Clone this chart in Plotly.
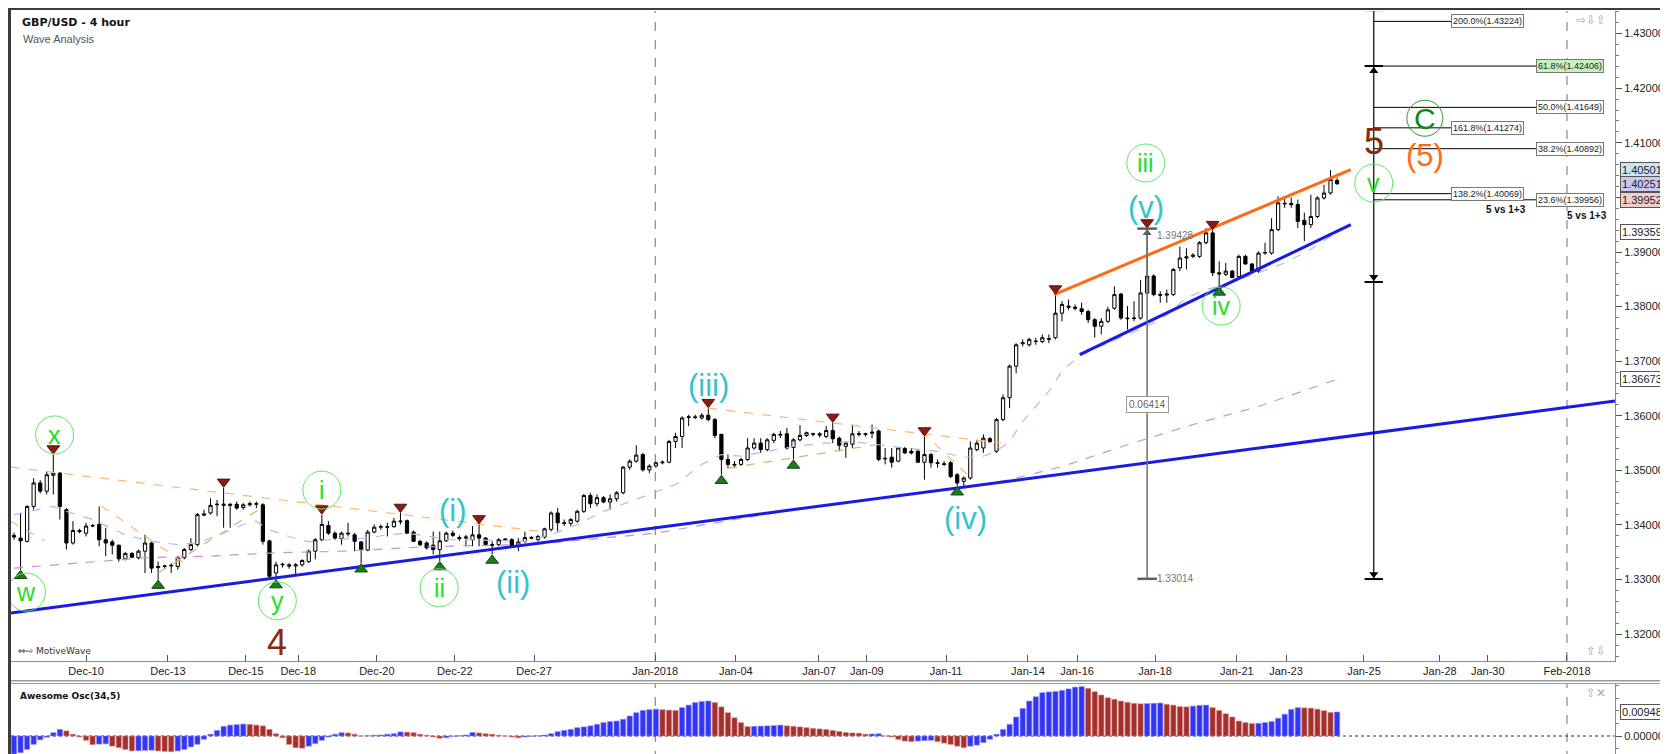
import plotly.graph_objects as go

W, H = 1668, 754

# ---------------- values (4 hour bars, index 0 = first bar) ----------------
opens = [
    1.3381, 1.3376, 1.3370, 1.3434, 1.3477, 1.3462, 1.3491, 1.3495, 1.3428, 1.3367,
    1.3390, 1.3385, 1.3398, 1.3401, 1.3373, 1.3369, 1.3363, 1.3338, 1.3348, 1.3340,
    1.3352, 1.3367, 1.3322, 1.3324, 1.3325, 1.3324, 1.3340, 1.3355, 1.3364, 1.3418,
    1.3422, 1.3437, 1.3436, 1.3438, 1.3438, 1.3432, 1.3437, 1.3438, 1.3437, 1.3371,
    1.3312, 1.3327, 1.3327, 1.3325, 1.3327, 1.3333, 1.3352, 1.3373, 1.3399, 1.3385,
    1.3375, 1.3385, 1.3382, 1.3369, 1.3354, 1.3387, 1.3396, 1.3397, 1.3397, 1.3406,
    1.3408, 1.3387, 1.3370, 1.3367, 1.3363, 1.3355, 1.3371, 1.3385, 1.3377, 1.3376,
    1.3373, 1.3382, 1.3376, 1.3364, 1.3364, 1.3373, 1.3373, 1.3361, 1.3370, 1.3377,
    1.3373, 1.3378, 1.3392, 1.3422, 1.3404, 1.3403, 1.3407, 1.3425, 1.3454, 1.3439,
    1.3450, 1.3442, 1.3448, 1.3459, 1.3506, 1.3517, 1.3529, 1.3501, 1.3508, 1.3514,
    1.3515, 1.3553, 1.3562, 1.3597, 1.3598, 1.3596, 1.3601, 1.3593, 1.3566, 1.3520,
    1.3511, 1.3511, 1.3520, 1.3541, 1.3550, 1.3538, 1.3555, 1.3566, 1.3567, 1.3542,
    1.3556, 1.3564, 1.3566, 1.3567, 1.3562, 1.3573, 1.3559, 1.3544, 1.3548, 1.3566,
    1.3567, 1.3568, 1.3572, 1.3521, 1.3524, 1.3517, 1.3540, 1.3535, 1.3535, 1.3515,
    1.3529, 1.3514, 1.3512, 1.3514, 1.3492, 1.3480, 1.3486, 1.3538, 1.3541, 1.3558,
    1.3535, 1.3593, 1.3633, 1.3691, 1.3732, 1.3730, 1.3737, 1.3736, 1.3740, 1.3743,
    1.3788, 1.3801, 1.3799, 1.3796, 1.3791, 1.3776, 1.3764, 1.3773, 1.3797, 1.3823,
    1.3779, 1.3778, 1.3779, 1.3825, 1.3856, 1.3822, 1.3821, 1.3822, 1.3871, 1.3889,
    1.3892, 1.3892, 1.3917, 1.3935, 1.3862, 1.3859, 1.3865, 1.3855, 1.3892, 1.3878,
    1.3865, 1.3898, 1.3898, 1.3941, 1.3988, 1.3989, 1.3987, 1.3958, 1.3950, 1.3965,
    1.3999, 1.4008, 1.4031,
]
highs = [
    1.3386, 1.3422, 1.3436, 1.3486, 1.3482, 1.3498, 1.3529, 1.3497, 1.3431, 1.3407,
    1.3393, 1.3404, 1.3402, 1.3434, 1.3395, 1.3373, 1.3364, 1.3350, 1.3350, 1.3355,
    1.3382, 1.3370, 1.3333, 1.3327, 1.3330, 1.3343, 1.3358, 1.3376, 1.3422, 1.3428,
    1.3449, 1.3446, 1.3468, 1.3440, 1.3443, 1.3440, 1.3443, 1.3443, 1.3440, 1.3373,
    1.3333, 1.3331, 1.3330, 1.3330, 1.3337, 1.3355, 1.3376, 1.3419, 1.3407, 1.3388,
    1.3388, 1.3404, 1.3385, 1.3370, 1.3391, 1.3401, 1.3401, 1.3404, 1.3413, 1.3422,
    1.3410, 1.3390, 1.3373, 1.3370, 1.3388, 1.3388, 1.3388, 1.3390, 1.3381, 1.3382,
    1.3398, 1.3401, 1.3378, 1.3370, 1.3376, 1.3376, 1.3376, 1.3376, 1.3388, 1.3380,
    1.3382, 1.3395, 1.3425, 1.3431, 1.3410, 1.3413, 1.3428, 1.3457, 1.3459, 1.3456,
    1.3453, 1.3456, 1.3462, 1.3508, 1.3520, 1.3546, 1.3532, 1.3511, 1.3516, 1.3518,
    1.3556, 1.3569, 1.3599, 1.3602, 1.3602, 1.3605, 1.3614, 1.3596, 1.3567, 1.3529,
    1.3517, 1.3523, 1.3559, 1.3559, 1.3559, 1.3559, 1.3569, 1.3572, 1.3578, 1.3559,
    1.3583, 1.3571, 1.3569, 1.3570, 1.3581, 1.3587, 1.3562, 1.3553, 1.3584, 1.3572,
    1.3569, 1.3584, 1.3575, 1.3541, 1.3541, 1.3542, 1.3543, 1.3541, 1.3538, 1.3562,
    1.3532, 1.3520, 1.3517, 1.3517, 1.3495, 1.3489, 1.3553, 1.3556, 1.3566, 1.3561,
    1.3596, 1.3639, 1.3694, 1.3733, 1.3740, 1.3743, 1.3743, 1.3749, 1.3749, 1.3822,
    1.3810, 1.3813, 1.3804, 1.3807, 1.3794, 1.3779, 1.3779, 1.3800, 1.3837, 1.3825,
    1.3801, 1.3810, 1.3849, 1.3943, 1.3859, 1.3828, 1.3831, 1.3871, 1.3910, 1.3907,
    1.3898, 1.3920, 1.3944, 1.3940, 1.3883, 1.3880, 1.3867, 1.3895, 1.3895, 1.3880,
    1.3901, 1.3917, 1.3962, 1.4002, 1.4002, 1.4000, 1.3996, 1.3972, 1.4005, 1.4002,
    1.4023, 1.4050, 1.4036,
]
lows = [
    1.3373, 1.3318, 1.3368, 1.3428, 1.3458, 1.3456, 1.3456, 1.3410, 1.3355, 1.3364,
    1.3385, 1.3379, 1.3396, 1.3361, 1.3343, 1.3346, 1.3333, 1.3335, 1.3340, 1.3337,
    1.3312, 1.3312, 1.3300, 1.3320, 1.3312, 1.3318, 1.3337, 1.3352, 1.3361, 1.3416,
    1.3419, 1.3416, 1.3395, 1.3395, 1.3428, 1.3428, 1.3434, 1.3431, 1.3364, 1.3303,
    1.3301, 1.3322, 1.3320, 1.3310, 1.3324, 1.3330, 1.3337, 1.3370, 1.3382, 1.3373,
    1.3364, 1.3379, 1.3352, 1.3330, 1.3352, 1.3385, 1.3391, 1.3379, 1.3395, 1.3401,
    1.3385, 1.3369, 1.3361, 1.3355, 1.3346, 1.3334, 1.3369, 1.3378, 1.3371, 1.3361,
    1.3361, 1.3361, 1.3361, 1.3346, 1.3361, 1.3370, 1.3358, 1.3352, 1.3367, 1.3374,
    1.3370, 1.3375, 1.3388, 1.3388, 1.3398, 1.3398, 1.3404, 1.3422, 1.3431, 1.3434,
    1.3440, 1.3428, 1.3443, 1.3456, 1.3501, 1.3514, 1.3498, 1.3495, 1.3505, 1.3511,
    1.3513, 1.3541, 1.3541, 1.3581, 1.3594, 1.3593, 1.3590, 1.3559, 1.3492, 1.3504,
    1.3504, 1.3508, 1.3517, 1.3538, 1.3532, 1.3535, 1.3550, 1.3559, 1.3538, 1.3520,
    1.3553, 1.3561, 1.3562, 1.3560, 1.3559, 1.3550, 1.3535, 1.3523, 1.3541, 1.3562,
    1.3562, 1.3559, 1.3517, 1.3511, 1.3505, 1.3515, 1.3530, 1.3529, 1.3514, 1.3483,
    1.3505, 1.3505, 1.3508, 1.3486, 1.3471, 1.3468, 1.3483, 1.3535, 1.3532, 1.3550,
    1.3532, 1.3590, 1.3614, 1.3678, 1.3727, 1.3727, 1.3730, 1.3733, 1.3733, 1.3740,
    1.3773, 1.3794, 1.3793, 1.3785, 1.3770, 1.3743, 1.3749, 1.3770, 1.3794, 1.3776,
    1.3758, 1.3773, 1.3776, 1.3822, 1.3819, 1.3807, 1.3807, 1.3819, 1.3865, 1.3868,
    1.3889, 1.3889, 1.3914, 1.3856, 1.3837, 1.3856, 1.3853, 1.3852, 1.3877, 1.3862,
    1.3862, 1.3895, 1.3895, 1.3938, 1.3981, 1.3981, 1.3944, 1.3920, 1.3944, 1.3962,
    1.3996, 1.4005, 1.4023,
]
closes = [
    1.3378, 1.3371, 1.3434, 1.3477, 1.3462, 1.3492, 1.3495, 1.3434, 1.3367, 1.3390,
    1.3388, 1.3398, 1.3399, 1.3373, 1.3367, 1.3363, 1.3338, 1.3348, 1.3341, 1.3352,
    1.3367, 1.3321, 1.3324, 1.3325, 1.3326, 1.3340, 1.3355, 1.3364, 1.3419, 1.3420,
    1.3436, 1.3438, 1.3438, 1.3436, 1.3431, 1.3437, 1.3439, 1.3439, 1.3370, 1.3306,
    1.3327, 1.3328, 1.3325, 1.3327, 1.3335, 1.3352, 1.3373, 1.3401, 1.3385, 1.3376,
    1.3385, 1.3384, 1.3370, 1.3355, 1.3387, 1.3396, 1.3397, 1.3396, 1.3407, 1.3407,
    1.3385, 1.3370, 1.3364, 1.3358, 1.3355, 1.3371, 1.3385, 1.3381, 1.3375, 1.3378,
    1.3382, 1.3376, 1.3364, 1.3363, 1.3373, 1.3374, 1.3361, 1.3369, 1.3377, 1.3376,
    1.3379, 1.3393, 1.3422, 1.3404, 1.3403, 1.3410, 1.3425, 1.3454, 1.3439, 1.3450,
    1.3442, 1.3448, 1.3459, 1.3506, 1.3517, 1.3528, 1.3501, 1.3508, 1.3514, 1.3515,
    1.3553, 1.3562, 1.3596, 1.3598, 1.3597, 1.3601, 1.3593, 1.3564, 1.3520, 1.3511,
    1.3510, 1.3520, 1.3541, 1.3550, 1.3538, 1.3556, 1.3566, 1.3565, 1.3541, 1.3556,
    1.3564, 1.3569, 1.3567, 1.3565, 1.3573, 1.3558, 1.3546, 1.3550, 1.3567, 1.3567,
    1.3566, 1.3570, 1.3520, 1.3522, 1.3515, 1.3541, 1.3532, 1.3532, 1.3515, 1.3529,
    1.3514, 1.3513, 1.3511, 1.3489, 1.3477, 1.3486, 1.3541, 1.3550, 1.3559, 1.3553,
    1.3593, 1.3633, 1.3691, 1.3730, 1.3734, 1.3740, 1.3736, 1.3743, 1.3741, 1.3788,
    1.3804, 1.3799, 1.3797, 1.3791, 1.3776, 1.3764, 1.3773, 1.3794, 1.3822, 1.3779,
    1.3778, 1.3779, 1.3825, 1.3856, 1.3822, 1.3821, 1.3823, 1.3868, 1.3889, 1.3891,
    1.3894, 1.3917, 1.3935, 1.3862, 1.3860, 1.3865, 1.3853, 1.3892, 1.3878, 1.3865,
    1.3898, 1.3899, 1.3941, 1.3990, 1.3989, 1.3987, 1.3956, 1.3950, 1.3965, 1.3999,
    1.4008, 1.4033, 1.4025,
]

# Awesome Oscillator (34,5), one value per bar
ao_values = [
    -0.0072, -0.0066, -0.0053, -0.0033, -0.0015, -0.0005, 0.0013, 0.0026,
    0.0020, 0.0007, -0.0004, -0.0017, -0.0034,
    -0.0032, -0.0031,
    -0.0040, -0.0046, -0.0053, -0.0059,
    -0.0058, -0.0057, -0.0056,
    -0.0059, -0.0061, -0.0062,
    -0.0059, -0.0053, -0.0043, -0.0033, -0.0013, 0.0007, 0.0022, 0.0038, 0.0043, 0.0045, 0.0047,
    0.0046, 0.0043, 0.0040, 0.0026, 0.0009, -0.0007, -0.0033, -0.0046, -0.0048,
    -0.0040, -0.0030, -0.0017, -0.0004, 0.0007, 0.0013,
    0.0012, 0.0007, 0.0000,
    0.0001, 0.0003, 0.0004, 0.0007, 0.0009, 0.0016,
    0.0015, 0.0013, 0.0007, 0.0003, -0.0004, -0.0009,
    -0.0007, -0.0001, 0.0001, 0.0004, 0.0014,
    0.0012, 0.0009, 0.0007, 0.0003, 0.0000, -0.0004, -0.0007,
    -0.0004, -0.0001, 0.0001, 0.0004, 0.0009, 0.0017, 0.0022, 0.0026, 0.0033, 0.0036, 0.0040,
    0.0046, 0.0053, 0.0057, 0.0059, 0.0066, 0.0079, 0.0092, 0.0101, 0.0104, 0.0106,
    0.0104, 0.0102, 0.0101,
    0.0112, 0.0122, 0.0132, 0.0136, 0.0138,
    0.0132, 0.0115, 0.0092, 0.0072, 0.0053, 0.0037,
    0.0038, 0.0039, 0.0040, 0.0041, 0.0043,
    0.0040, 0.0038, 0.0036, 0.0033, 0.0030, 0.0028, 0.0026, 0.0022, 0.0018, 0.0014, 0.0012, 0.0011, 0.0007,
    0.0008, 0.0009,
    0.0000, -0.0004, -0.0013, -0.0020, -0.0022,
    -0.0020, -0.0018, -0.0017,
    -0.0022, -0.0028, -0.0033, -0.0040, -0.0046,
    -0.0040, -0.0036, -0.0026, -0.0013, 0.0007, 0.0026, 0.0046, 0.0075, 0.0109, 0.0138,
    0.0155, 0.0171, 0.0174, 0.0176, 0.0180, 0.0186, 0.0193, 0.0195,
    0.0188, 0.0175, 0.0162, 0.0151, 0.0145, 0.0138, 0.0133, 0.0129, 0.0127,
    0.0128, 0.0129, 0.0130,
    0.0125, 0.0122, 0.0116, 0.0115,
    0.0118, 0.0121, 0.0122,
    0.0112, 0.0101, 0.0088, 0.0075, 0.0059, 0.0053, 0.0049,
    0.0050, 0.0053, 0.0057, 0.0070, 0.0086, 0.0105, 0.0112,
    0.0111, 0.0110, 0.0106, 0.0100, 0.0093,
    0.00948,
]

# moving averages, read at sample bars
ma_fast_bar = [0, 6, 8, 12, 17, 21, 25, 28, 32, 35, 37, 39, 42, 45, 48, 51, 54, 57, 60, 63,
               66, 70, 75, 78, 82, 86, 90, 94, 97, 101, 105, 108, 111, 115, 119, 124, 128,
               132, 136, 141, 145, 148, 150, 152, 154, 156, 158, 160, 162, 164, 167, 170,
               173, 176, 179, 182, 184, 187, 190, 194, 198, 202]
ma_fast_val = [1.3419, 1.3434, 1.3425, 1.3410, 1.3382, 1.3370, 1.3364, 1.3367, 1.3385, 1.3401,
               1.3407, 1.3391, 1.3379, 1.3369, 1.3373, 1.3375, 1.3376, 1.3382, 1.3385, 1.3380,
               1.3373, 1.3373, 1.3371, 1.3370, 1.3382, 1.3401, 1.3425, 1.3443, 1.3456, 1.3474,
               1.3511, 1.3529, 1.3526, 1.3535, 1.3544, 1.3550, 1.3553, 1.3547, 1.3541, 1.3535,
               1.3524, 1.3526, 1.3535, 1.3553, 1.3590, 1.3617, 1.3645, 1.3682, 1.3703, 1.3718,
               1.3733, 1.3749, 1.3764, 1.3785, 1.3816, 1.3831, 1.3837, 1.3849, 1.3862, 1.3880,
               1.3905, 1.3936]
ma_slow_bar = [0, 10, 20, 30, 40, 50, 60, 63, 80, 98, 110, 124, 136, 145, 152, 160, 170, 180,
               190, 196, 202]
ma_slow_val = [1.3321, 1.3330, 1.3340, 1.3343, 1.3349, 1.3352, 1.3358, 1.3360, 1.3365, 1.3385,
               1.3410, 1.3437, 1.3455, 1.3468, 1.3483, 1.3507, 1.3547, 1.3584, 1.3617, 1.3642,
               1.3667]

tick_bar = [11.0, 23.5, 35.4, 43.4, 55.4, 67.3, 79.4, 97.9, 110.2, 122.9, 130.2, 142.3,
            154.8, 162.3, 174.2, 186.7, 194.2, 206.1, 217.7, 225.0, 237.1]
tick_text = ['Dec-10', 'Dec-13', 'Dec-15', 'Dec-18', 'Dec-20', 'Dec-22', 'Dec-27', 'Jan-2018',
             'Jan-04', 'Jan-07', 'Jan-09', 'Jan-11', 'Jan-14', 'Jan-16', 'Jan-18', 'Jan-21',
             'Jan-23', 'Jan-25', 'Jan-28', 'Jan-30', 'Feb-2018']
month_lines = [97.9, 237.1]

peak_bars = [6, 32, 47, 59, 71, 106, 125, 139, 159, 173, 183]
trough_bars = [1, 22, 40, 53, 65, 73, 108, 119, 144, 184]

wave_text = ['w', 'x', 'y', '4', 'i', 'ii', '(i)', '(ii)', '(iii)', '(iv)', 'iii', '(v)', 'iv',
             'v', '5', '(5)', 'C']
wave_bar = [1.9, 6.2, 40.2, 40.2, 47.0, 64.9, 67.0, 76.2, 106.0, 145.3, 172.8, 172.8, 184.3,
            207.6, 207.6, 215.4, 215.4]
wave_price = [1.3277, 1.3565, 1.3261, 1.3184, 1.3464, 1.3285, 1.3427, 1.3294, 1.3655, 1.3411,
              1.4063, 1.3982, 1.3801, 1.4026, 1.4103, 1.4076, 1.4145]
wave_kind = ['g', 'g', 'g', 'brown', 'g', 'g', 'cyan', 'cyan', 'cyan', 'cyan', 'g', 'cyan', 'g',
             'g', 'brown', 'orange', 'dg']

# drawn trend lines: (bars, prices)
blue_lines = [([-0.46, 244.43], [1.3239, 1.3627]), ([162.7, 204.1], [1.3712, 1.3950])]
orange_line = ([158.8, 204.1], [1.3822, 1.4051])
orange_dashes = [([-0.5, 80.5], [1.3506, 1.3388]), ([106, 150.7], [1.3614, 1.3550]),
                 ([-0.5, 4.7], [1.3407, 1.3371]), ([13.3, 26.6], [1.3435, 1.3325]),
                 ([138.5, 146.1], [1.3572, 1.3486])]
khaki_dashes = [([22, 38.3], [1.3312, 1.3435]), ([109, 131.5], [1.3504, 1.3547])]

measure_bar, measure_lo, measure_hi = 173, 1.33014, 1.39428

fib_bar = 207.6
fib_caps = [1.4343, 1.42406, 1.3845, 1.3301]
fib_text = ['200.0%', '161.8%', '138.2%', '61.8%', '50.0%', '38.2%', '23.6%']
fib_price = [1.43224, 1.41274, 1.40069, 1.42406, 1.41649, 1.40892, 1.39956]
fib_column = [0, 0, 0, 1, 1, 1, 1]

axis_marks = [1.40501, 1.40251, 1.39952, 1.39359, 1.36673]
ao_last = 0.00948

# ---------------- figure ----------------
n = len(closes)
assert len(opens) == n and len(highs) == n and len(lows) == n and len(ao_values) == n
bars = list(range(n))
FONT = 'Liberation Sans'


def px(x):
    return x / W


def py(y):
    return 1 - y / H


fig = go.Figure()

# moving averages
fig.add_trace(go.Scatter(x=ma_slow_bar, y=ma_slow_val, mode='lines',
                         line=dict(color='#cc8fd6', width=1.2, dash='dash')))
fig.add_trace(go.Scatter(x=ma_fast_bar, y=ma_fast_val, mode='lines',
                         line=dict(color='#a9bdf5', width=1.2, dash='dash')))
for xs, ys in orange_dashes:
    fig.add_trace(go.Scatter(x=xs, y=ys, mode='lines', line=dict(color='#ffb570', width=1.2, dash='dash')))
for xs, ys in khaki_dashes:
    fig.add_trace(go.Scatter(x=xs, y=ys, mode='lines', line=dict(color='#c9bb74', width=1.2, dash='dash')))

# candles
fig.add_trace(go.Candlestick(
    x=bars, open=opens, high=highs, low=lows, close=closes,
    increasing=dict(line=dict(color='black', width=1), fillcolor='white'),
    decreasing=dict(line=dict(color='black', width=1), fillcolor='black'),
    whiskerwidth=0, hoverinfo='skip'))

# trend lines
for xs, ys in blue_lines:
    fig.add_trace(go.Scatter(x=xs, y=ys, mode='lines', line=dict(color='#1a1ae6', width=3)))
fig.add_trace(go.Scatter(x=orange_line[0], y=orange_line[1], mode='lines',
                         line=dict(color='#ff6a13', width=3)))

# swing markers
fig.add_trace(go.Scatter(x=peak_bars, y=[highs[i] + 0.0011 for i in peak_bars], mode='markers',
                         marker=dict(symbol='triangle-down', size=11, color='#8c1c13',
                                     line=dict(color='#5a0f0a', width=1))))
fig.add_trace(go.Scatter(x=trough_bars, y=[lows[i] - 0.0011 for i in trough_bars], mode='markers',
                         marker=dict(symbol='triangle-up', size=11, color='#1f7a1f',
                                     line=dict(color='#104810', width=1))))

# measuring tool
fig.add_trace(go.Scatter(x=[measure_bar, measure_bar], y=[measure_lo, measure_hi], mode='lines',
                         line=dict(color='#707070', width=1.5)))
for v in (measure_lo, measure_hi):
    fig.add_trace(go.Scatter(x=[measure_bar - 1.5, measure_bar + 1.5], y=[v, v], mode='lines',
                             line=dict(color='#606060', width=2.5)))
fig.add_trace(go.Scatter(x=[measure_bar], y=[measure_hi - 0.0008], mode='markers',
                         marker=dict(symbol='triangle-up', size=8, color='#606060')))

# fib tool
fig.add_trace(go.Scatter(x=[fib_bar, fib_bar], y=[fib_caps[-1], fib_caps[0]], mode='lines',
                         line=dict(color='black', width=1.2)))
for v in fib_caps:
    fig.add_trace(go.Scatter(x=[fib_bar - 1.4, fib_bar + 1.4], y=[v, v], mode='lines',
                             line=dict(color='black', width=2)))
fig.add_trace(go.Scatter(x=[fib_bar, fib_bar, fib_bar],
                         y=[fib_caps[1] - 0.0009, fib_caps[2] + 0.0009, fib_caps[3] + 0.0009],
                         mode='markers',
                         marker=dict(symbol=['triangle-up', 'triangle-down', 'triangle-down'],
                                     size=8, color='black')))
box_left = [219.4, 232.4]
for t, v, c in zip(fib_text, fib_price, fib_column):
    fig.add_trace(go.Scatter(x=[fib_bar, box_left[c]], y=[v, v], mode='lines',
                             line=dict(color='black', width=1)))

# oscillator
ao_rising = [True] + [ao_values[i] > ao_values[i - 1] for i in range(1, n)]
fig.add_trace(go.Bar(x=bars, y=ao_values, xaxis='x2', yaxis='y2', width=0.8,
                     marker=dict(color=['#3434f5' if r else '#a3302c' for r in ao_rising],
                                 line=dict(color=['#8a8af8' if r else '#d88a86' for r in ao_rising],
                                           width=0.6))))

shapes = []
annotations = []

# month separators
for m in month_lines:
    for yr in ('y domain', 'y2 domain'):
        shapes.append(dict(type='line', xref='x', yref=yr, x0=m, x1=m, y0=0, y1=1,
                           line=dict(color='#707070', width=1, dash='dash'), layer='below'))
# zero line of oscillator
shapes.append(dict(type='line', xref='x', yref='y2', x0=-0.46, x1=244.43, y0=0, y1=0,
                   line=dict(color='#333', width=1, dash='dot'), layer='below'))

# frame
for x0, y0, x1, y1, col in [(0, 0, 3, H, '#3c3c3c'), (0, 0, W, 2, '#3c3c3c'),
                            (0, H - 2, W, H, '#3c3c3c'), (W - 5, 0, W, H, '#3c3c3c'),
                            (3, 672, W - 5, 673.5, '#9a9a9a'), (3, 675, W - 5, 676, '#9a9a9a')]:
    shapes.append(dict(type='rect', xref='paper', yref='paper', x0=px(x0), x1=px(x1),
                       y0=py(y1), y1=py(y0), fillcolor=col, line=dict(width=0)))

# wave labels
style = {
    'g': ('#27dd27', 25), 'cyan': ('#35c4cc', 31), 'brown': ('#8b2a0a', 36),
    'orange': ('#ff6a13', 31), 'dg': ('#138a13', 30),
}
for t, b, p, k in zip(wave_text, wave_bar, wave_price, wave_kind):
    col, size = style[k]
    annotations.append(dict(x=b, y=p, xref='x', yref='y', text=t, showarrow=False,
                            font=dict(family=FONT, size=size, color=col),
                            xanchor='center', yanchor='middle'))
    if k in ('g', 'dg'):
        r = 19 if k == 'g' else 18
        shapes.append(dict(type='circle', xref='x', yref='y', xsizemode='pixel',
                           ysizemode='pixel', xanchor=b, yanchor=p, x0=-r, x1=r, y0=-r, y1=r,
                           line=dict(color='#5ee85e' if k == 'g' else '#2a9a2a', width=1)))

# measuring labels
annotations += [
    dict(x=measure_bar + 1.2, y=measure_hi - 0.0013, xref='x', yref='y', text='%.5f' % measure_hi,
         showarrow=False, xanchor='left', font=dict(family=FONT, size=10, color='#777')),
    dict(x=measure_bar + 1.2, y=measure_lo + 0.0001, xref='x', yref='y', text='%.5f' % measure_lo,
         showarrow=False, xanchor='left', font=dict(family=FONT, size=10, color='#777')),
    dict(x=measure_bar, y=(measure_lo + measure_hi) / 2 - 0.0002, xref='x', yref='y',
         text='%.5f' % (measure_hi - measure_lo), showarrow=False, bgcolor='white',
         bordercolor='#999', borderwidth=1, borderpad=2,
         font=dict(family=FONT, size=10, color='#666')),
]

# fib boxes
for t, v, c in zip(fib_text, fib_price, fib_column):
    annotations.append(dict(x=box_left[c], y=v, xref='x', yref='y', text='%s(%.5f)' % (t, v),
                            showarrow=False, xanchor='left', yanchor='middle',
                            bgcolor='#c9f0c0' if t == '61.8%' else 'white',
                            bordercolor='#777', borderwidth=1, borderpad=1,
                            font=dict(family=FONT, size=9, color='#222')))
annotations += [
    dict(x=227.8, y=1.3977, xref='x', yref='y', text='<b>5 vs 1+3</b>', showarrow=False,
         font=dict(family=FONT, size=10, color='#111')),
    dict(x=240.2, y=1.3966, xref='x', yref='y', text='<b>5 vs 1+3</b>', showarrow=False,
         font=dict(family=FONT, size=10, color='#111')),
]

# right axis value boxes
mark_bg = ['#cde2f4', '#c8c8f2', '#f4cccc', 'white', 'white']
for v, bg in zip(axis_marks, mark_bg):
    annotations.append(dict(x=px(1612), y=v, xref='paper', yref='y', text='%.5f' % v,
                            showarrow=False, xanchor='left', yanchor='middle', bgcolor=bg,
                            bordercolor='#555', borderwidth=1, borderpad=1,
                            font=dict(family=FONT, size=11, color='#222')))
annotations.append(dict(x=px(1612), y=ao_last, xref='paper', yref='y2', text='%.5f' % ao_last,
                        showarrow=False, xanchor='left', yanchor='middle', bgcolor='white',
                        bordercolor='#555', borderwidth=1, borderpad=1,
                        font=dict(family=FONT, size=11, color='#222')))

# titles and small texts
annotations += [
    dict(x=px(12), y=py(14), xref='paper', yref='paper', text='<b>GBP/USD - 4 hour</b>',
         showarrow=False, xanchor='left', yanchor='middle',
         font=dict(family='DejaVu Sans', size=11, color='#111')),
    dict(x=px(13), y=py(31), xref='paper', yref='paper', text='Wave Analysis', showarrow=False,
         xanchor='left', yanchor='middle', font=dict(family=FONT, size=11, color='#555')),
    dict(x=px(8), y=py(643), xref='paper', yref='paper', text='⇔⇨ MotiveWave', showarrow=False,
         xanchor='left', yanchor='middle', font=dict(family='DejaVu Sans', size=9, color='#333')),
    dict(x=px(10), y=py(688), xref='paper', yref='paper', text='<b>Awesome Osc(34,5)</b>',
         showarrow=False, xanchor='left', yanchor='middle',
         font=dict(family='DejaVu Sans', size=9, color='#111')),
    dict(x=px(1600), y=py(12), xref='paper', yref='paper', text='⇨⇩⇧', showarrow=False,
         xanchor='right', yanchor='middle', font=dict(family='DejaVu Sans', size=12, color='#aaa')),
    dict(x=px(1600), y=py(643), xref='paper', yref='paper', text='⇧⇩', showarrow=False,
         xanchor='right', yanchor='middle', font=dict(family='DejaVu Sans', size=12, color='#aaa')),
    dict(x=px(1600), y=py(685), xref='paper', yref='paper', text='⇧✕', showarrow=False,
         xanchor='right', yanchor='middle', font=dict(family='DejaVu Sans', size=12, color='#aaa')),
]

fig.update_layout(
    width=W, height=H, margin=dict(l=0, r=0, t=0, b=0),
    paper_bgcolor='white', plot_bgcolor='white', showlegend=False, hovermode=False,
    shapes=shapes, annotations=annotations,
    xaxis=dict(domain=[px(3), px(1607)], range=[-0.46, 244.43], anchor='y',
               rangeslider=dict(visible=False), showgrid=False, zeroline=False,
               showline=True, linecolor='#8a8a8a', linewidth=1,
               tickmode='array', tickvals=tick_bar, ticktext=tick_text,
               ticks='inside', ticklen=6, tickcolor='#555',
               tickfont=dict(family=FONT, size=11, color='#222')),
    yaxis=dict(domain=[py(653), py(3)], range=[1.31509, 1.43414], anchor='x', side='right',
               showgrid=False, zeroline=False, showline=True, linecolor='#8a8a8a',
               tickformat='.5f', dtick=0.01, tick0=1.32, ticks='outside', ticklen=6,
               tickcolor='#555', tickfont=dict(family=FONT, size=11, color='#222'),
               minor=dict(dtick=0.002, ticks='outside', ticklen=3, tickcolor='#777')),
    xaxis2=dict(domain=[px(3), px(1607)], matches='x', anchor='y2', showticklabels=False,
                showgrid=False, zeroline=False, showline=False, ticks=''),
    yaxis2=dict(domain=[py(752), py(676)], range=[-0.00948, 0.02054], anchor='x2', side='right',
                showgrid=False, zeroline=False, showline=True, linecolor='#8a8a8a',
                tickmode='array', tickvals=[0], ticktext=['0.00000'], ticks='outside',
                ticklen=6, tickcolor='#555', tickfont=dict(family=FONT, size=11, color='#222'),
                minor=dict(tickmode='array', tickvals=[-0.005, 0.005, 0.01, 0.015, 0.02],
                           ticks='outside', ticklen=3, tickcolor='#777')),
)

fig.write_html('out.html')
